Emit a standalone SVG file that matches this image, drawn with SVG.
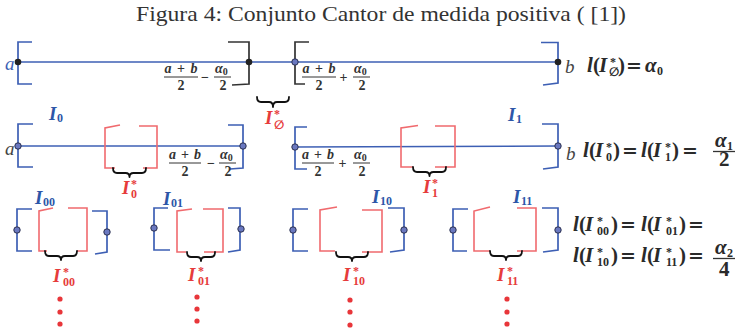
<svg xmlns="http://www.w3.org/2000/svg" width="736" height="330" viewBox="0 0 736 330">
<defs>
<style>
.t{font-family:"Liberation Serif",serif;font-size:22px;fill:#333}
.ln{stroke:#3d5fb4;stroke-width:1.6;fill:none}
.bb{stroke:#3d5fb4;stroke-width:1.7;fill:none}
.bk{stroke:#333;stroke-width:1.7;fill:none}
.br{stroke:#f06a6e;stroke-width:1.6;fill:none}
.brace{stroke:#111;stroke-width:1.8;fill:none;stroke-linecap:round;stroke-linejoin:round}
.dk{fill:#222}
.dv{fill:#6a78c0;stroke:#2b3050;stroke-width:1}
.dr{fill:#e8363a}
.m{font-family:"Liberation Serif",serif;font-weight:bold;font-style:italic;font-size:21px;fill:#2a2a2a}
.eq{font-family:"DejaVu Serif",serif;font-style:normal;font-size:19px}
.s{font-size:12px}
.st{font-size:12px;font-style:normal}
.es{font-family:"DejaVu Sans",sans-serif;font-style:normal;font-size:12px}
.lb{font-family:"Liberation Serif",serif;font-weight:bold;font-style:italic;font-size:19px;fill:#2d56a8}
.lr{font-family:"Liberation Serif",serif;font-weight:bold;font-style:italic;font-size:19px;fill:#e63b3b}
.e{font-family:"Liberation Serif",serif;font-style:italic;font-size:19px;fill:#444}
.f{font-family:"Liberation Serif",serif;font-weight:bold;font-style:italic;font-size:14px;fill:#333}
.fb{stroke:#333;stroke-width:1}
text.u,tspan.u{font-style:normal}
</style>
</defs>
<rect width="736" height="330" fill="#fff"/>

<text id="title" class="t" x="136" y="21" textLength="490" lengthAdjust="spacingAndGlyphs">Figura 4: Conjunto Cantor de medida positiva ( [1])</text>

<!-- level 0: [a, b] with the removed middle gap -->
<g id="interval-ab">
  <line class="ln" x1="18" y1="62" x2="558" y2="62"/>
  <path class="bb" d="M32,42 H18 V84 H32"/>
  <path class="bk" d="M228,42 H249 V84 L232,85"/>
  <path class="bk" d="M309,42 H295 V84 H305"/>
  <path class="bb" d="M541,42.5 H558 V83 L543,85"/>
  <circle class="dk" cx="18" cy="62" r="3.3"/>
  <circle class="dk" cx="249" cy="62" r="3.3"/>
  <circle class="dv" cx="295" cy="62" r="3.2"/>
  <circle class="dk" cx="558" cy="62" r="3.3"/>
  <text class="e" x="5" y="70" style="fill:#3d5fb4">a</text>
  <text class="e" x="565" y="73">b</text>
  <!-- (a+b)/2 - alpha0/2 -->
  <text class="f" x="181" y="73" text-anchor="middle" textLength="33">a <tspan class="u">+</tspan> b</text>
  <line class="fb" x1="164" y1="77" x2="198" y2="77"/>
  <text class="f u" x="181" y="90" text-anchor="middle">2</text>
  <text class="f u" x="205" y="82" text-anchor="middle">−</text>
  <text class="f" x="215" y="73">α<tspan class="u" font-size="10" dy="2">0</tspan></text>
  <line class="fb" x1="214" y1="77" x2="231" y2="77"/>
  <text class="f u" x="223" y="90" text-anchor="middle">2</text>
  <!-- (a+b)/2 + alpha0/2 -->
  <text class="f" x="319" y="73" text-anchor="middle" textLength="33">a <tspan class="u">+</tspan> b</text>
  <line class="fb" x1="302" y1="77" x2="336" y2="77"/>
  <text class="f u" x="319" y="90" text-anchor="middle">2</text>
  <text class="f u" x="343.5" y="82" text-anchor="middle">+</text>
  <text class="f" x="354" y="73">α<tspan class="u" font-size="10" dy="2">0</tspan></text>
  <line class="fb" x1="353" y1="77" x2="370" y2="77"/>
  <text class="f u" x="362" y="90" text-anchor="middle">2</text>
</g>

<g id="gap-empty">
  <path class="brace" d="M257,97 Q257,102 261,102 L269,102 Q273,102 273,107 Q273,102 277,102 L285,102 Q289,102 289,97"/>
  <text class="lr"><tspan x="265" y="124">I</tspan><tspan class="st" x="274" y="118">*</tspan><tspan class="es" x="274" y="129">∅</tspan></text>
</g>

<!-- level 1 -->
<g id="interval-I0">
  <line class="ln" x1="18" y1="146" x2="243" y2="146"/>
  <path class="bb" d="M33,124 H18 V167 H33"/>
  <path class="bb" d="M228,125 H243 V168 L230,169"/>
  <path class="br" d="M120,125 L105,128 V168 H115"/>
  <path class="br" d="M139,126 H157 V168 H143"/>
  <circle class="dv" cx="18" cy="146" r="3.2"/>
  <circle class="dv" cx="243" cy="146" r="3.2"/>
  <text class="e" x="5" y="155">a</text>
  <text class="lb"><tspan x="49" y="120">I</tspan><tspan class="s u" x="57" y="122">0</tspan></text>
  <text class="f" x="185" y="159" text-anchor="middle" textLength="32">a <tspan class="u">+</tspan> b</text>
  <line class="fb" x1="169" y1="163" x2="201" y2="163"/>
  <text class="f u" x="185" y="176" text-anchor="middle">2</text>
  <text class="f u" x="211" y="168" text-anchor="middle">−</text>
  <text class="f" x="220" y="159">α<tspan class="u" font-size="10" dy="2">0</tspan></text>
  <line class="fb" x1="219" y1="163" x2="236" y2="163"/>
  <text class="f u" x="228" y="176" text-anchor="middle">2</text>
</g>

<g id="gap-I0">
  <path class="brace" d="M113,168 Q113,173 117,173 L125.5,173 Q129.5,173 129.5,177 Q129.5,173 133.5,173 L142,173 Q146,173 146,168"/>
  <text class="lr"><tspan x="122" y="194">I</tspan><tspan class="st" x="131" y="188">*</tspan><tspan class="s u" x="131" y="198">0</tspan></text>
</g>

<g id="interval-I1">
  <line class="ln" x1="295" y1="147" x2="558" y2="146"/>
  <path class="bb" d="M307,127 H295 V169 H307"/>
  <path class="bb" d="M542,124 H558 V167 L543,169"/>
  <path class="br" d="M418,125.5 L401,128 V167 H413"/>
  <path class="br" d="M435,126 H455 V167 H435"/>
  <circle class="dv" cx="295" cy="147" r="3.2"/>
  <circle class="dv" cx="558" cy="146" r="3.2"/>
  <text class="e" x="566" y="160">b</text>
  <text class="lb"><tspan x="508" y="121">I</tspan><tspan class="s u" x="516" y="123">1</tspan></text>
  <text class="f" x="318" y="159" text-anchor="middle" textLength="32">a <tspan class="u">+</tspan> b</text>
  <line class="fb" x1="302" y1="163" x2="334" y2="163"/>
  <text class="f u" x="318" y="176" text-anchor="middle">2</text>
  <text class="f u" x="342.5" y="168" text-anchor="middle">+</text>
  <text class="f" x="354" y="159">α<tspan class="u" font-size="10" dy="2">0</tspan></text>
  <line class="fb" x1="353" y1="163" x2="370" y2="163"/>
  <text class="f u" x="362" y="176" text-anchor="middle">2</text>
</g>

<g id="gap-I1">
  <path class="brace" d="M413,167 Q413,172 417,172 L425.5,172 Q429.5,172 429.5,176 Q429.5,172 433.5,172 L442,172 Q446,172 446,167"/>
  <text class="lr"><tspan x="423" y="193">I</tspan><tspan class="st" x="432" y="187">*</tspan><tspan class="s u" x="432" y="197">1</tspan></text>
</g>

<!-- level 2 -->
<g id="interval-I00">
  <path class="bb" d="M32,209 H17 V251 H32"/>
  <path class="bb" d="M92,211 H107 V252 L95,254"/>
  <path class="br" d="M53,208 L39,211 V251 H47"/>
  <path class="br" d="M68,208 H87 V251 H77"/>
  <circle class="dv" cx="17" cy="230" r="3.2"/>
  <circle class="dv" cx="107" cy="232" r="3.2"/>
  <text class="lb"><tspan x="35" y="204">I</tspan><tspan class="s u" x="43" y="206">00</tspan></text>
  <path class="brace" d="M45,251 Q45,256 49,256 L57,256 Q61,256 61,260 Q61,256 65,256 L73,256 Q77,256 77,251"/>
  <text class="lr"><tspan x="53" y="282">I</tspan><tspan class="st" x="63" y="276">*</tspan><tspan class="s u" x="63" y="286">00</tspan></text>
  <circle class="dr" cx="60" cy="299" r="2.6"/>
  <circle class="dr" cx="60" cy="312" r="2.6"/>
  <circle class="dr" cx="60" cy="324" r="2.6"/>
</g>

<g id="interval-I01">
  <path class="bb" d="M168,208 H154 V250 H170"/>
  <path class="bb" d="M228,208 H240 V250 L228,252"/>
  <path class="br" d="M192,209 L177,211 V252 H186"/>
  <path class="br" d="M203,209 H223 V252 H204"/>
  <circle class="dv" cx="154" cy="228" r="3.2"/>
  <circle class="dv" cx="241" cy="229" r="3.2"/>
  <text class="lb"><tspan x="163" y="205">I</tspan><tspan class="s u" x="171" y="207">01</tspan></text>
  <path class="brace" d="M187,252 Q187,257 191,257 L197,257 Q201,257 201,261 Q201,257 205,257 L211,257 Q215,257 215,252"/>
  <text class="lr"><tspan x="188" y="281">I</tspan><tspan class="st" x="198" y="275">*</tspan><tspan class="s u" x="198" y="285">01</tspan></text>
  <circle class="dr" cx="197" cy="297" r="2.6"/>
  <circle class="dr" cx="197" cy="309" r="2.6"/>
  <circle class="dr" cx="197" cy="321" r="2.6"/>
</g>

<g id="interval-I10">
  <path class="bb" d="M308,209 H293 V251 H308"/>
  <path class="bb" d="M388,208 H404 V250 L390,252"/>
  <path class="br" d="M337,207 L320,210 V251 H335"/>
  <path class="br" d="M362,210 H382 V252 H362"/>
  <circle class="dv" cx="293" cy="230" r="3.2"/>
  <circle class="dv" cx="404" cy="230" r="3.2"/>
  <text class="lb"><tspan x="372" y="203">I</tspan><tspan class="s u" x="380" y="205">10</tspan></text>
  <path class="brace" d="M336,252 Q336,257 340,257 L348,257 Q352,257 352,261 Q352,257 356,257 L364,257 Q368,257 368,252"/>
  <text class="lr"><tspan x="343" y="281">I</tspan><tspan class="st" x="353" y="275">*</tspan><tspan class="s u" x="353" y="285">10</tspan></text>
  <circle class="dr" cx="350" cy="300" r="2.6"/>
  <circle class="dr" cx="350" cy="312" r="2.6"/>
  <circle class="dr" cx="350" cy="325" r="2.6"/>
</g>

<g id="interval-I11">
  <path class="bb" d="M468,209 H453 V251 H467"/>
  <path class="bb" d="M542,208 H558 V250 L543,252"/>
  <path class="br" d="M490,207 L474,211 V251 H490"/>
  <path class="br" d="M517,208 H536 V251 H517"/>
  <circle class="dv" cx="453" cy="230" r="3.2"/>
  <circle class="dv" cx="558" cy="230" r="3.2"/>
  <text class="lb"><tspan x="513" y="203">I</tspan><tspan class="s u" x="521" y="205">11</tspan></text>
  <path class="brace" d="M490,251 Q490,256 494,256 L502,256 Q506,256 506,260 Q506,256 510,256 L518,256 Q522,256 522,251"/>
  <text class="lr"><tspan x="497" y="281">I</tspan><tspan class="st" x="507" y="275">*</tspan><tspan class="s u" x="507" y="285">11</tspan></text>
  <circle class="dr" cx="507" cy="299" r="2.6"/>
  <circle class="dr" cx="507" cy="312" r="2.6"/>
  <circle class="dr" cx="507" cy="324" r="2.6"/>
</g>

<!-- lengths of the removed gaps -->
<g id="length-0">
  <text class="m"><tspan x="587" y="72">l</tspan><tspan class="u" x="593" y="72">(</tspan><tspan x="599" y="72">I</tspan><tspan class="st" x="610" y="66">*</tspan><tspan class="es" x="609" y="76">∅</tspan><tspan class="u" x="618" y="72">)</tspan><tspan class="eq" x="626" y="72">=</tspan><tspan x="645" y="72">α</tspan><tspan class="s u" x="657" y="75">0</tspan></text>
</g>
<g id="length-1">
  <text class="m"><tspan x="583" y="157">l</tspan><tspan class="u" x="589" y="157">(</tspan><tspan x="595" y="157">I</tspan><tspan class="st" x="606" y="151">*</tspan><tspan class="s u" x="606" y="161">0</tspan><tspan class="u" x="613" y="157">)</tspan><tspan class="eq" x="622" y="157">=</tspan><tspan x="641" y="157">l</tspan><tspan class="u" x="647" y="157">(</tspan><tspan x="653" y="157">I</tspan><tspan class="st" x="665" y="151">*</tspan><tspan class="s u" x="665" y="161">1</tspan><tspan class="u" x="672" y="157">)</tspan><tspan class="eq" x="682" y="157">=</tspan><tspan x="715" y="147">α</tspan><tspan class="s u" x="727" y="150">1</tspan><tspan class="u" x="719" y="166">2</tspan></text>
  <line class="fb" x1="713" y1="151.5" x2="735" y2="151.5" style="stroke-width:1.3"/>
</g>
<g id="length-2">
  <text class="m"><tspan x="573" y="231">l</tspan><tspan class="u" x="579" y="231">(</tspan><tspan x="585" y="231">I</tspan><tspan class="st" x="597" y="225">*</tspan><tspan class="s u" x="597" y="235">00</tspan><tspan class="u" x="611" y="231">)</tspan><tspan class="eq" x="620" y="231">=</tspan><tspan x="641" y="231">l</tspan><tspan class="u" x="647" y="231">(</tspan><tspan x="653" y="231">I</tspan><tspan class="st" x="666" y="225">*</tspan><tspan class="s u" x="666" y="235">01</tspan><tspan class="u" x="679" y="231">)</tspan><tspan class="eq" x="688" y="231">=</tspan></text>
  <text class="m"><tspan x="573" y="262">l</tspan><tspan class="u" x="579" y="262">(</tspan><tspan x="585" y="262">I</tspan><tspan class="st" x="597" y="256">*</tspan><tspan class="s u" x="597" y="266">10</tspan><tspan class="u" x="611" y="262">)</tspan><tspan class="eq" x="620" y="262">=</tspan><tspan x="641" y="262">l</tspan><tspan class="u" x="647" y="262">(</tspan><tspan x="653" y="262">I</tspan><tspan class="st" x="666" y="256">*</tspan><tspan class="s u" x="666" y="266">11</tspan><tspan class="u" x="679" y="262">)</tspan><tspan class="eq" x="688" y="262">=</tspan><tspan x="715" y="254">α</tspan><tspan class="s u" x="727" y="257">2</tspan><tspan class="u" x="719" y="276">4</tspan></text>
  <line class="fb" x1="713" y1="258.5" x2="735" y2="258.5" style="stroke-width:1.3"/>
</g>
</svg>
